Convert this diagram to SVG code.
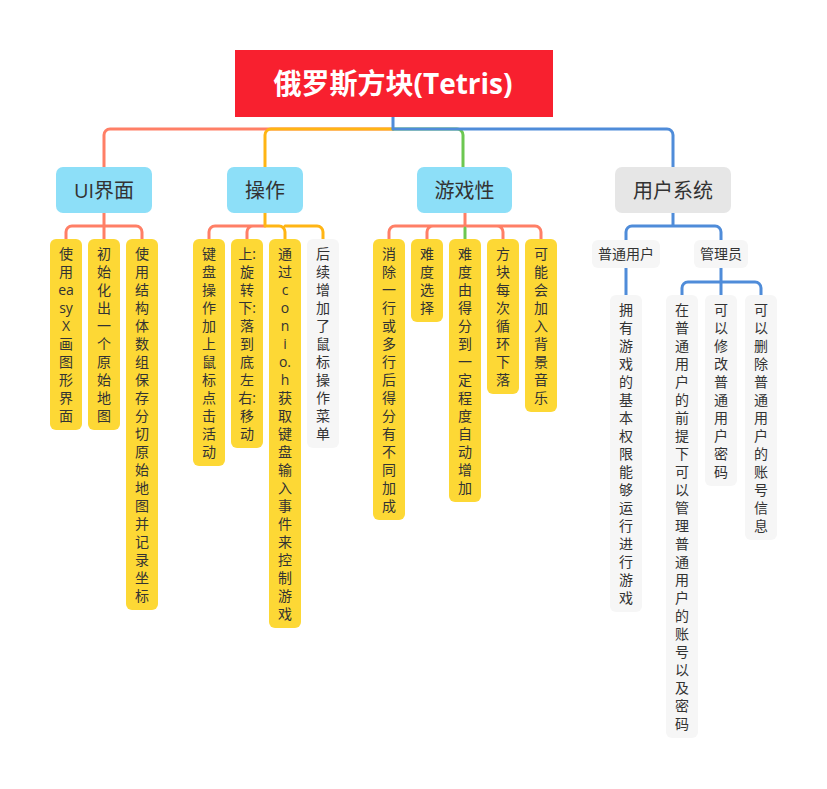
<svg xmlns="http://www.w3.org/2000/svg" width="827" height="789" viewBox="0 0 827 789">
<style>
.t{font-family:"Open Sans","Noto Sans CJK SC",sans-serif;font-size:14px;fill:#333;text-anchor:middle}
.b{font-family:"Open Sans","Noto Sans CJK SC",sans-serif;font-size:20px;fill:#333;text-anchor:middle}
.r{font-family:"Open Sans","Noto Sans CJK SC",sans-serif;font-size:28px;font-weight:bold;fill:#fff;text-anchor:middle}
.y{fill:#fdd835}
.g{fill:#f6f6f6}
.lb{fill:#8ddff8}
.gb{fill:#e6e6e6}
.c{fill:none;stroke-width:3;stroke-linecap:round;stroke-linejoin:round}
.co{stroke:#ff7f66}
.ye{stroke:#ffb514}
.gr{stroke:#6cc751}
.bl{stroke:#4f8cd9}
</style>
<rect width="827" height="789" fill="#fff"/>
<g id="connectors">
<path class="c co" d="M393,129 H110 A6,6 0 0 0 104,135 V167"/>
<path class="c ye" d="M393,129 H271 A6,6 0 0 0 265,135 V167"/>
<path class="c gr" d="M393,129 H457 A6,6 0 0 1 463,135 V167"/>
<path class="c bl" d="M393,117 V129 H667 A6,6 0 0 1 673,135 V167"/>
<path class="c co" d="M104,213 V239 M104,226 H72 A6,6 0 0 0 66,232 V239 M104,226 H136 A6,6 0 0 1 142,232 V239"/>
<path class="c co" d="M265,226 H215 A6,6 0 0 0 209,232 V239 M265,226 H253 A6,6 0 0 0 247,232 V239"/>
<path class="c ye" d="M265,213 V226 H279 A6,6 0 0 1 285,232 V239 M285,226 H317 A6,6 0 0 1 323,232 V239"/>
<path class="c co" d="M465,213 V226 M465,226 H395 A6,6 0 0 0 389,232 V239 M465,226 H433 A6,6 0 0 0 427,232 V239 M465,226 H497 A6,6 0 0 1 503,232 V239 M465,226 H535 A6,6 0 0 1 541,232 V239"/>
<path class="c gr" d="M465,228 V239"/>
<path class="c bl" d="M673,213 V226 H632 A6,6 0 0 0 626,232 V240 M673,226 H715 A6,6 0 0 1 721,232 V240"/>
<path class="c bl" d="M626,268 V295"/>
<path class="c bl" d="M721,268 V295 M721,282 H688 A6,6 0 0 0 682,288 V295 M721,282 H755 A6,6 0 0 1 761,288 V295"/>
</g>
<g id="root"><rect x="235" y="50" width="318" height="67" fill="#f8202f"/><text class="r" x="393" y="93.5">俄罗斯方块(Tetris)</text></g>
<g id="ui"><rect class="lb" x="56" y="167" width="96" height="46" rx="7"/><text class="b" x="104" y="197.5">UI界面</text></g>
<g id="op"><rect class="lb" x="227" y="167" width="76" height="46" rx="7"/><text class="b" x="265" y="197.5">操作</text></g>
<g id="game"><rect class="lb" x="417" y="167" width="95" height="46" rx="7"/><text class="b" x="464.5" y="197.5">游戏性</text></g>
<g id="user"><rect class="gb" x="615" y="167" width="116" height="46" rx="7"/><text class="b" x="673" y="197.5">用户系统</text></g>

<g id="ui1"><rect class="y" x="50" y="239" width="32" height="191" rx="6"/><text class="t" y="258.8"><tspan x="66">使</tspan><tspan x="66" dy="18">用</tspan><tspan x="66" dy="18">ea</tspan><tspan x="66" dy="18">sy</tspan><tspan x="66" dy="18">X</tspan><tspan x="66" dy="18">画</tspan><tspan x="66" dy="18">图</tspan><tspan x="66" dy="18">形</tspan><tspan x="66" dy="18">界</tspan><tspan x="66" dy="18">面</tspan></text></g>
<g id="ui2"><rect class="y" x="88" y="239" width="32" height="191" rx="6"/><text class="t" y="258.8"><tspan x="104">初</tspan><tspan x="104" dy="18">始</tspan><tspan x="104" dy="18">化</tspan><tspan x="104" dy="18">出</tspan><tspan x="104" dy="18">一</tspan><tspan x="104" dy="18">个</tspan><tspan x="104" dy="18">原</tspan><tspan x="104" dy="18">始</tspan><tspan x="104" dy="18">地</tspan><tspan x="104" dy="18">图</tspan></text></g>
<g id="ui3"><rect class="y" x="126" y="239" width="32" height="371" rx="6"/><text class="t" y="258.8"><tspan x="142">使</tspan><tspan x="142" dy="18">用</tspan><tspan x="142" dy="18">结</tspan><tspan x="142" dy="18">构</tspan><tspan x="142" dy="18">体</tspan><tspan x="142" dy="18">数</tspan><tspan x="142" dy="18">组</tspan><tspan x="142" dy="18">保</tspan><tspan x="142" dy="18">存</tspan><tspan x="142" dy="18">分</tspan><tspan x="142" dy="18">切</tspan><tspan x="142" dy="18">原</tspan><tspan x="142" dy="18">始</tspan><tspan x="142" dy="18">地</tspan><tspan x="142" dy="18">图</tspan><tspan x="142" dy="18">并</tspan><tspan x="142" dy="18">记</tspan><tspan x="142" dy="18">录</tspan><tspan x="142" dy="18">坐</tspan><tspan x="142" dy="18">标</tspan></text></g>

<g id="op1"><rect class="y" x="193" y="239" width="32" height="227" rx="6"/><text class="t" y="258.8"><tspan x="209">键</tspan><tspan x="209" dy="18">盘</tspan><tspan x="209" dy="18">操</tspan><tspan x="209" dy="18">作</tspan><tspan x="209" dy="18">加</tspan><tspan x="209" dy="18">上</tspan><tspan x="209" dy="18">鼠</tspan><tspan x="209" dy="18">标</tspan><tspan x="209" dy="18">点</tspan><tspan x="209" dy="18">击</tspan><tspan x="209" dy="18">活</tspan><tspan x="209" dy="18">动</tspan></text></g>
<g id="op2"><rect class="y" x="231" y="239" width="32" height="209" rx="6"/><text class="t" y="258.8"><tspan x="247">上:</tspan><tspan x="247" dy="18">旋</tspan><tspan x="247" dy="18">转</tspan><tspan x="247" dy="18">下:</tspan><tspan x="247" dy="18">落</tspan><tspan x="247" dy="18">到</tspan><tspan x="247" dy="18">底</tspan><tspan x="247" dy="18">左</tspan><tspan x="247" dy="18">右:</tspan><tspan x="247" dy="18">移</tspan><tspan x="247" dy="18">动</tspan></text></g>
<g id="op3"><rect class="y" x="269" y="239" width="32" height="389" rx="6"/><text class="t" y="258.8"><tspan x="285">通</tspan><tspan x="285" dy="18">过</tspan><tspan x="285" dy="18">c</tspan><tspan x="285" dy="18">o</tspan><tspan x="285" dy="18">n</tspan><tspan x="285" dy="18">i</tspan><tspan x="285" dy="18">o.</tspan><tspan x="285" dy="18">h</tspan><tspan x="285" dy="18">获</tspan><tspan x="285" dy="18">取</tspan><tspan x="285" dy="18">键</tspan><tspan x="285" dy="18">盘</tspan><tspan x="285" dy="18">输</tspan><tspan x="285" dy="18">入</tspan><tspan x="285" dy="18">事</tspan><tspan x="285" dy="18">件</tspan><tspan x="285" dy="18">来</tspan><tspan x="285" dy="18">控</tspan><tspan x="285" dy="18">制</tspan><tspan x="285" dy="18">游</tspan><tspan x="285" dy="18">戏</tspan></text></g>
<g id="op4"><rect class="g" x="307" y="239" width="32" height="209" rx="6"/><text class="t" y="258.8"><tspan x="323">后</tspan><tspan x="323" dy="18">续</tspan><tspan x="323" dy="18">增</tspan><tspan x="323" dy="18">加</tspan><tspan x="323" dy="18">了</tspan><tspan x="323" dy="18">鼠</tspan><tspan x="323" dy="18">标</tspan><tspan x="323" dy="18">操</tspan><tspan x="323" dy="18">作</tspan><tspan x="323" dy="18">菜</tspan><tspan x="323" dy="18">单</tspan></text></g>

<g id="g1"><rect class="y" x="373" y="239" width="32" height="281" rx="6"/><text class="t" y="258.8"><tspan x="389">消</tspan><tspan x="389" dy="18">除</tspan><tspan x="389" dy="18">一</tspan><tspan x="389" dy="18">行</tspan><tspan x="389" dy="18">或</tspan><tspan x="389" dy="18">多</tspan><tspan x="389" dy="18">行</tspan><tspan x="389" dy="18">后</tspan><tspan x="389" dy="18">得</tspan><tspan x="389" dy="18">分</tspan><tspan x="389" dy="18">有</tspan><tspan x="389" dy="18">不</tspan><tspan x="389" dy="18">同</tspan><tspan x="389" dy="18">加</tspan><tspan x="389" dy="18">成</tspan></text></g>
<g id="g2"><rect class="y" x="411" y="239" width="32" height="83" rx="6"/><text class="t" y="258.8"><tspan x="427">难</tspan><tspan x="427" dy="18">度</tspan><tspan x="427" dy="18">选</tspan><tspan x="427" dy="18">择</tspan></text></g>
<g id="g3"><rect class="y" x="449" y="239" width="32" height="263" rx="6"/><text class="t" y="258.8"><tspan x="465">难</tspan><tspan x="465" dy="18">度</tspan><tspan x="465" dy="18">由</tspan><tspan x="465" dy="18">得</tspan><tspan x="465" dy="18">分</tspan><tspan x="465" dy="18">到</tspan><tspan x="465" dy="18">一</tspan><tspan x="465" dy="18">定</tspan><tspan x="465" dy="18">程</tspan><tspan x="465" dy="18">度</tspan><tspan x="465" dy="18">自</tspan><tspan x="465" dy="18">动</tspan><tspan x="465" dy="18">增</tspan><tspan x="465" dy="18">加</tspan></text></g>
<g id="g4"><rect class="y" x="487" y="239" width="32" height="155" rx="6"/><text class="t" y="258.8"><tspan x="503">方</tspan><tspan x="503" dy="18">块</tspan><tspan x="503" dy="18">每</tspan><tspan x="503" dy="18">次</tspan><tspan x="503" dy="18">循</tspan><tspan x="503" dy="18">环</tspan><tspan x="503" dy="18">下</tspan><tspan x="503" dy="18">落</tspan></text></g>
<g id="g5"><rect class="y" x="525" y="239" width="32" height="173" rx="6"/><text class="t" y="258.8"><tspan x="541">可</tspan><tspan x="541" dy="18">能</tspan><tspan x="541" dy="18">会</tspan><tspan x="541" dy="18">加</tspan><tspan x="541" dy="18">入</tspan><tspan x="541" dy="18">背</tspan><tspan x="541" dy="18">景</tspan><tspan x="541" dy="18">音</tspan><tspan x="541" dy="18">乐</tspan></text></g>

<g id="normal"><rect class="g" x="592" y="240" width="68" height="28" rx="6"/><text class="t" x="626" y="259.3">普通用户</text></g>
<g id="admin"><rect class="g" x="694" y="240" width="54" height="28" rx="6"/><text class="t" x="721" y="259.3">管理员</text></g>

<g id="p1"><rect class="g" x="610" y="295" width="32" height="317" rx="6"/><text class="t" y="314.8"><tspan x="626">拥</tspan><tspan x="626" dy="18">有</tspan><tspan x="626" dy="18">游</tspan><tspan x="626" dy="18">戏</tspan><tspan x="626" dy="18">的</tspan><tspan x="626" dy="18">基</tspan><tspan x="626" dy="18">本</tspan><tspan x="626" dy="18">权</tspan><tspan x="626" dy="18">限</tspan><tspan x="626" dy="18">能</tspan><tspan x="626" dy="18">够</tspan><tspan x="626" dy="18">运</tspan><tspan x="626" dy="18">行</tspan><tspan x="626" dy="18">进</tspan><tspan x="626" dy="18">行</tspan><tspan x="626" dy="18">游</tspan><tspan x="626" dy="18">戏</tspan></text></g>
<g id="a1"><rect class="g" x="666" y="295" width="32" height="443" rx="6"/><text class="t" y="314.8"><tspan x="682">在</tspan><tspan x="682" dy="18">普</tspan><tspan x="682" dy="18">通</tspan><tspan x="682" dy="18">用</tspan><tspan x="682" dy="18">户</tspan><tspan x="682" dy="18">的</tspan><tspan x="682" dy="18">前</tspan><tspan x="682" dy="18">提</tspan><tspan x="682" dy="18">下</tspan><tspan x="682" dy="18">可</tspan><tspan x="682" dy="18">以</tspan><tspan x="682" dy="18">管</tspan><tspan x="682" dy="18">理</tspan><tspan x="682" dy="18">普</tspan><tspan x="682" dy="18">通</tspan><tspan x="682" dy="18">用</tspan><tspan x="682" dy="18">户</tspan><tspan x="682" dy="18">的</tspan><tspan x="682" dy="18">账</tspan><tspan x="682" dy="18">号</tspan><tspan x="682" dy="18">以</tspan><tspan x="682" dy="18">及</tspan><tspan x="682" dy="18">密</tspan><tspan x="682" dy="18">码</tspan></text></g>
<g id="a2"><rect class="g" x="705" y="295" width="32" height="191" rx="6"/><text class="t" y="314.8"><tspan x="721">可</tspan><tspan x="721" dy="18">以</tspan><tspan x="721" dy="18">修</tspan><tspan x="721" dy="18">改</tspan><tspan x="721" dy="18">普</tspan><tspan x="721" dy="18">通</tspan><tspan x="721" dy="18">用</tspan><tspan x="721" dy="18">户</tspan><tspan x="721" dy="18">密</tspan><tspan x="721" dy="18">码</tspan></text></g>
<g id="a3"><rect class="g" x="745" y="295" width="32" height="245" rx="6"/><text class="t" y="314.8"><tspan x="761">可</tspan><tspan x="761" dy="18">以</tspan><tspan x="761" dy="18">删</tspan><tspan x="761" dy="18">除</tspan><tspan x="761" dy="18">普</tspan><tspan x="761" dy="18">通</tspan><tspan x="761" dy="18">用</tspan><tspan x="761" dy="18">户</tspan><tspan x="761" dy="18">的</tspan><tspan x="761" dy="18">账</tspan><tspan x="761" dy="18">号</tspan><tspan x="761" dy="18">信</tspan><tspan x="761" dy="18">息</tspan></text></g>
</svg>
